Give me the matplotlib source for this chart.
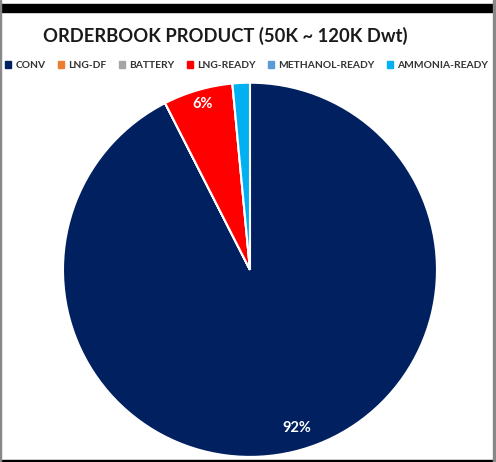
import matplotlib.pyplot as plt
from matplotlib.patches import Rectangle

# data (share of orderbook, %)
categories = ['CONV', 'LNG-DF', 'BATTERY', 'LNG-READY', 'METHANOL-READY', 'AMMONIA-READY']
shares = [92.5, 0.0, 0.0, 6.0, 0.0, 1.5]
shown_labels = ['92%', '', '', '6%', '', '']
colors = ['#002060', '#ED7D31', '#A5A5A5', '#FF0000', '#5B9BD5', '#00B0F0']

plt.rcParams['font.family'] = ['Lato', 'DejaVu Sans']

fig = plt.figure(figsize=(4.96, 4.62), dpi=100)
ax = fig.add_axes([0.127, 0.011, 0.754, 0.81])

wedges, texts = ax.pie(shares, colors=colors, startangle=90, counterclock=False,
                       labels=shown_labels, labeldistance=0.9,
                       wedgeprops=dict(edgecolor='white', linewidth=1.5),
                       textprops=dict(color='white', fontsize=10.5, fontweight='bold'))
for t in texts:
    t.set_horizontalalignment('center')
    t.set_verticalalignment('center')
# nudge the big label to where the original sits
x, y = texts[0].get_position()
texts[0].set_position((x + 0.04, y + 0.03))
x, y = texts[3].get_position()
texts[3].set_position((x, y + 0.02))
ax.set_xlim(-1, 1)
ax.set_ylim(-1, 1)
ax.set_aspect('auto')

fig.text(0.455, 0.923, 'ORDERBOOK PRODUCT (50K ~ 120K Dwt)', ha='center', va='center',
         fontsize=13.2, fontweight='bold', color='#1a1a1a')

handles = [Rectangle((0, 0), 1, 1, color=c) for c in colors]
fig.legend(handles, categories, loc='center', bbox_to_anchor=(0.497, 0.858), ncol=6,
           frameon=False, handlelength=0.6, handleheight=0.6,
           handletextpad=0.4, columnspacing=1.2, labelcolor='#333333',
           prop=dict(weight='bold', size=7.4))

# frame around the screenshot
fig.patches.append(Rectangle((0, 0.974), 1, 0.018, transform=fig.transFigure,
                             color='black', zorder=5))
fig.patches.append(Rectangle((0, 0.0), 1, 0.005, transform=fig.transFigure,
                             color='black', zorder=5))
fig.patches.append(Rectangle((0, 0), 0.003, 1, transform=fig.transFigure,
                             color='#888888', zorder=5))
fig.patches.append(Rectangle((0.993, 0), 0.007, 1, transform=fig.transFigure,
                             color='#888888', zorder=5))

fig.savefig('out.png', dpi=100)
